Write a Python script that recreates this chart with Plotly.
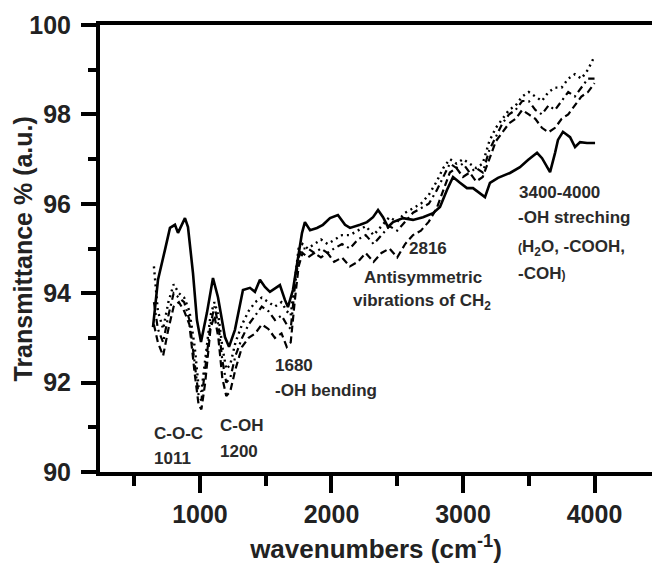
import plotly.graph_objects as go

wn_solid = [643, 681, 734, 772, 810, 833, 886, 909, 947, 977, 1008, 1053, 1099, 1137, 1190, 1221,
            1266, 1327, 1380, 1418, 1456, 1494, 1532, 1608, 1646, 1669, 1707, 1745, 1776, 1798,
            1837, 1890, 1935, 1989, 2049, 2103, 2141, 2217, 2270, 2316, 2354, 2392, 2430, 2468,
            2544, 2620, 2696, 2772, 2825, 2878, 2924, 2977, 3030, 3076, 3129, 3167, 3205, 3266,
            3357, 3433, 3494, 3563, 3601, 3639, 3662, 3700, 3722, 3760, 3814, 3852, 3890, 3943, 4004]
t_solid = [93.24, 94.30, 94.97, 95.46, 95.53, 95.35, 95.68, 95.48, 94.45, 93.40, 92.91, 93.56, 94.34,
           93.91, 93.02, 92.80, 93.18, 94.07, 94.12, 94.03, 94.30, 94.14, 94.03, 94.18, 93.85, 93.69,
           94.07, 94.74, 95.35, 95.59, 95.41, 95.46, 95.53, 95.68, 95.75, 95.53, 95.46, 95.53, 95.59,
           95.70, 95.86, 95.70, 95.48, 95.59, 95.68, 95.64, 95.70, 95.79, 95.93, 96.31, 96.60, 96.47,
           96.35, 96.35, 96.24, 96.15, 96.47, 96.58, 96.69, 96.82, 96.98, 97.14, 97.02, 96.82, 96.71,
           97.14, 97.43, 97.61, 97.49, 97.27, 97.38, 97.36, 97.36]

# Common grid for the three broken-line series
wn_other = [650, 680, 720, 760, 800, 840, 880, 920, 960, 990, 1011, 1040, 1080, 1110, 1140, 1170,
            1200, 1230, 1270, 1320, 1370, 1420, 1470, 1520, 1570, 1620, 1660, 1690, 1720, 1750,
            1780, 1820, 1870, 1920, 1970, 2020, 2080, 2140, 2200, 2260, 2320, 2380, 2440, 2500,
            2560, 2620, 2680, 2740, 2800, 2850, 2900, 2950, 3000, 3050, 3100, 3150, 3200, 3250,
            3300, 3350, 3400, 3450, 3500, 3550, 3600, 3650, 3700, 3750, 3800, 3850, 3900, 3950, 4000]
t_dash = [93.3, 92.9, 92.6, 93.2, 93.7, 93.8, 93.6, 93.3, 92.2, 91.5, 91.4, 92.0, 93.2, 93.5, 93.0, 92.1,
          91.7, 91.8, 92.3, 92.8, 93.0, 93.1, 93.3, 93.2, 93.0, 93.1, 92.8, 92.9, 93.8, 94.6,
          94.9, 94.8, 94.9, 94.8, 94.9, 94.7, 94.8, 94.6, 94.7, 94.9, 94.7, 94.9, 95.0, 94.8,
          95.1, 95.3, 95.4, 95.6, 95.9, 96.3, 96.7, 96.8, 96.6, 96.7, 96.5, 96.6, 97.0, 97.4,
          97.6, 97.8, 97.9, 98.1, 98.0, 97.9, 97.7, 97.6, 97.7, 97.9, 98.0, 98.2, 98.4, 98.5, 98.7]
t_dashdot = [93.8, 93.2, 92.9, 93.5, 94.0, 93.9, 93.8, 93.4, 92.5, 91.7, 91.6, 92.3, 93.3, 93.7, 93.3, 92.5,
             92.0, 92.1, 92.6, 93.0, 93.3, 93.5, 93.7, 93.6, 93.4, 93.5, 93.3, 93.2, 94.1, 94.8,
             95.0, 95.0, 94.9, 95.0, 94.9, 95.0, 95.1, 95.0, 95.2, 95.3, 95.1, 95.3, 95.5, 95.4,
             95.6, 95.8, 95.9, 96.0, 96.3, 96.6, 96.9, 96.8, 96.9, 96.7, 96.8, 96.7, 97.2, 97.5,
             97.8, 98.0, 98.1, 98.3, 98.3, 98.1, 98.0, 98.2, 98.1, 98.3, 98.5, 98.4, 98.6, 98.8, 98.8]
t_dot = [94.6, 93.6, 93.2, 93.8, 94.2, 94.0, 93.9, 93.6, 92.8, 91.9, 91.8, 92.5, 93.5, 93.8, 93.5, 92.8,
         92.3, 92.4, 92.9, 93.3, 93.6, 93.8, 93.9, 93.8, 93.7, 93.8, 93.6, 93.5, 94.3, 95.0,
         95.1, 95.0, 95.1, 95.2, 95.1, 95.2, 95.3, 95.3, 95.4, 95.5, 95.3, 95.5, 95.7, 95.6,
         95.8, 95.9, 96.0, 96.2, 96.5, 96.8, 97.0, 96.9, 97.0, 96.9, 96.8, 96.9, 97.4, 97.7,
         97.9, 98.1, 98.2, 98.4, 98.5, 98.4, 98.3, 98.5, 98.6, 98.6, 98.8, 98.9, 98.8, 99.0, 99.3]

x_ticks = [1000, 2000, 3000, 4000]
y_ticks = [90, 92, 94, 96, 98, 100]

# Peak annotations: (text, wavenumber, transmittance, xanchor)
labels = [
    ("C-O-C", 635, 90.87, "left"),
    ("1011", 635, 90.31, "left"),
    ("C-OH", 1137, 91.03, "left"),
    ("1200", 1137, 90.45, "left"),
    ("1680", 1555, 92.39, "left"),
    ("-OH bending", 1555, 91.83, "left"),
    ("2816", 2574, 95.01, "left"),
    ("Antisymmetric", 2696, 94.36, "center"),
    ("vibrations of CH<sub>2</sub>", 2148, 93.80, "left"),
    ("3400-4000", 3411, 96.26, "left"),
    ("-OH streching", 3403, 95.70, "left"),
    ("<span style='font-size:12px'>(</span>H<sub>2</sub>O, -COOH,", 3403, 95.01, "left"),
    ("-COH<span style='font-size:12px'>)</span>", 3403, 94.43, "left"),
]

FONT = "Liberation Sans, Arial, sans-serif"

fig = go.Figure()
fig.add_trace(go.Scatter(x=wn_other, y=t_dot, mode="lines",
                         line=dict(color="black", width=2.4, dash="2px,4px")))
fig.add_trace(go.Scatter(x=wn_other, y=t_dashdot, mode="lines",
                         line=dict(color="black", width=2.2, dash="7px,4px,2px,4px")))
fig.add_trace(go.Scatter(x=wn_other, y=t_dash, mode="lines",
                         line=dict(color="black", width=2.2, dash="7px,4px")))
fig.add_trace(go.Scatter(x=wn_solid, y=t_solid, mode="lines",
                         line=dict(color="black", width=2.6)))

for text, x, y, anchor in labels:
    fig.add_annotation(x=x, y=y, xref="x", yref="y", text=text, showarrow=False,
                       xanchor=anchor, yanchor="middle",
                       font=dict(family=FONT, size=17, color="#2a2a2a", weight="bold"))

# Y-axis title placed as rotated text
fig.add_annotation(x=-0.1395, y=0.5, xref="paper", yref="paper",
                   text="Transmittance % (a.u.)", textangle=-90, showarrow=False,
                   xanchor="center", yanchor="middle",
                   font=dict(family=FONT, size=25, color="#222", weight="bold"))

fig.update_layout(
    width=652, height=565,
    margin=dict(l=100, r=0, t=25, b=93),
    paper_bgcolor="white", plot_bgcolor="white",
    showlegend=False,
    font=dict(family=FONT, color="#222"),
)
fig.update_xaxes(
    range=[240, 4437], tickvals=x_ticks, ticktext=[str(v) for v in x_ticks],
    showline=True, linewidth=4, linecolor="black", mirror=True,
    ticks="outside", ticklen=17, tickwidth=4, tickcolor="black",
    minor=dict(dtick=500, tick0=0, ticks="outside", ticklen=10, tickwidth=4, tickcolor="black"),
    showgrid=False, zeroline=False,
    tickfont=dict(family=FONT, size=25, color="#222", weight="bold"),
    title=dict(text="wavenumbers (cm<sup>-1</sup>)", standoff=14,
               font=dict(family=FONT, size=26, color="#222", weight="bold")),
)
fig.update_yaxes(
    range=[90, 100], tickvals=y_ticks, ticktext=[str(v) for v in y_ticks],
    showline=True, linewidth=4, linecolor="black",
    ticks="outside", ticklen=15, tickwidth=4, tickcolor="black", ticklabelstandoff=5,
    minor=dict(dtick=1, tick0=0, ticks="outside", ticklen=8, tickwidth=4, tickcolor="black"),
    showgrid=False, zeroline=False,
    tickfont=dict(family=FONT, size=25, color="#222", weight="bold"),
)

fig.write_html("out.html")
